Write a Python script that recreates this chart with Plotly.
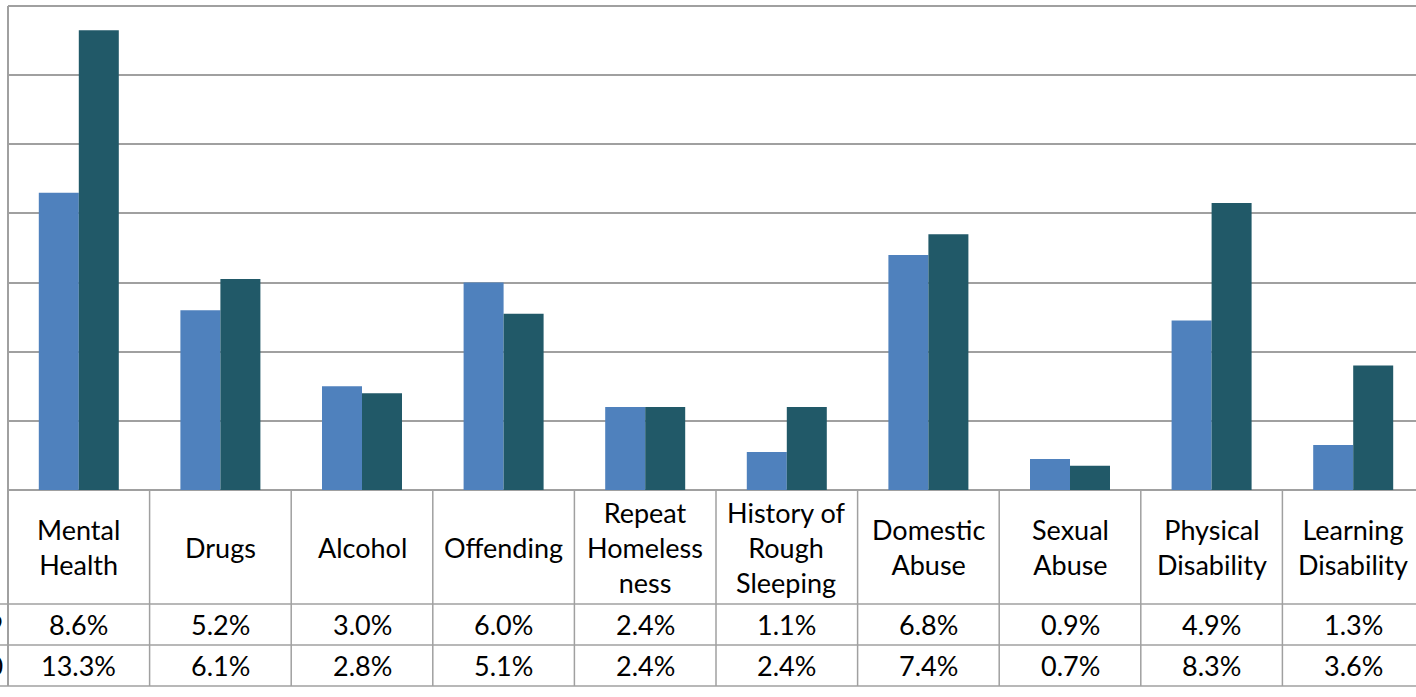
import plotly.graph_objects as go

categories = ["Mental<br>Health", "Drugs", "Alcohol", "Offending", "Repeat<br>Homeless<br>ness",
              "History of<br>Rough<br>Sleeping", "Domestic<br>Abuse", "Sexual<br>Abuse",
              "Physical<br>Disability", "Learning<br>Disability"]
series_names = ["2008/09", "2009/10"]
values_a = [8.6, 5.2, 3.0, 6.0, 2.4, 1.1, 6.8, 0.9, 4.9, 1.3]
values_b = [13.3, 6.1, 2.8, 5.1, 2.4, 2.4, 7.4, 0.7, 8.3, 3.6]
colors = ["#4F81BD", "#215968"]

W, H = 1416, 697
L, T, B = 8, 6, 11
plot_h = H - T - B  # 680
plot_w = W - L
base_px = 490
cat_w = 141.6

def py(pix):
    return (H - B - pix) / plot_h

def px(pix):
    return (pix - L) / plot_w

xs = list(range(len(categories)))
fig = go.Figure()
for name, vals, c in zip(series_names, [values_a, values_b], colors):
    fig.add_trace(go.Bar(x=xs, y=vals, name=name, marker=dict(color=c, line=dict(width=0))))

grid_c = "#a0a0a0"
font = "Lato, Open Sans, sans-serif"
fs = 27
shapes = []
# left axis line and top border
shapes.append(dict(type="line", xref="paper", yref="paper", x0=0, x1=0, y0=0, y1=1,
                   line=dict(color=grid_c, width=2)))
shapes.append(dict(type="line", xref="paper", yref="paper", x0=0, x1=1.01, y0=1, y1=1,
                   line=dict(color=grid_c, width=2)))
# table horizontal lines
for pix in [604, 645, 686]:
    shapes.append(dict(type="line", xref="paper", yref="paper", x0=px(0), x1=1.01, y0=py(pix), y1=py(pix),
                       line=dict(color=grid_c, width=1.5)))
# table vertical lines
for k in range(len(categories) + 1):
    shapes.append(dict(type="line", xref="x", yref="paper", x0=k - 0.5, x1=k - 0.5, y0=0, y1=py(base_px),
                       line=dict(color=grid_c, width=1.5)))

ann = []
for i, cat in enumerate(categories):
    ann.append(dict(x=i, y=py(547), xref="x", yref="paper", text=cat, showarrow=False,
                    font=dict(size=fs, color="black", family=font), xanchor="center", yanchor="middle"))
    ann.append(dict(x=i, y=py(624.5), xref="x", yref="paper", text=f"{values_a[i]:.1f}%", showarrow=False,
                    font=dict(size=fs, color="black", family=font), xanchor="center", yanchor="middle"))
    ann.append(dict(x=i, y=py(665.5), xref="x", yref="paper", text=f"{values_b[i]:.1f}%", showarrow=False,
                    font=dict(size=fs, color="black", family=font), xanchor="center", yanchor="middle"))
for name, pix in zip(series_names, [624.5, 665.5]):
    ann.append(dict(x=px(5), y=py(pix), xref="paper", yref="paper", text=name, showarrow=False,
                    font=dict(size=fs, color="black", family=font), xanchor="right", yanchor="middle"))

fig.update_layout(
    width=W, height=H,
    margin=dict(l=L, r=0, t=T, b=B, pad=0),
    paper_bgcolor="white", plot_bgcolor="white",
    barmode="group", bargap=0.435, bargroupgap=0,
    showlegend=False,
    xaxis=dict(range=[-0.5, -0.5 + plot_w / cat_w], showticklabels=False, showgrid=False,
               zeroline=False, showline=False, ticks=""),
    yaxis=dict(domain=[py(base_px), 1], range=[0, 14], dtick=2, showticklabels=False,
               showgrid=True, gridcolor=grid_c, gridwidth=1.5, zeroline=True, zerolinecolor=grid_c,
               zerolinewidth=1.5, showline=False, ticks=""),
    shapes=shapes, annotations=ann,
)
fig.write_html("out.html", config={"displayModeBar": False},
               post_script="document.body.style.margin='0';document.body.style.overflow='hidden';")
